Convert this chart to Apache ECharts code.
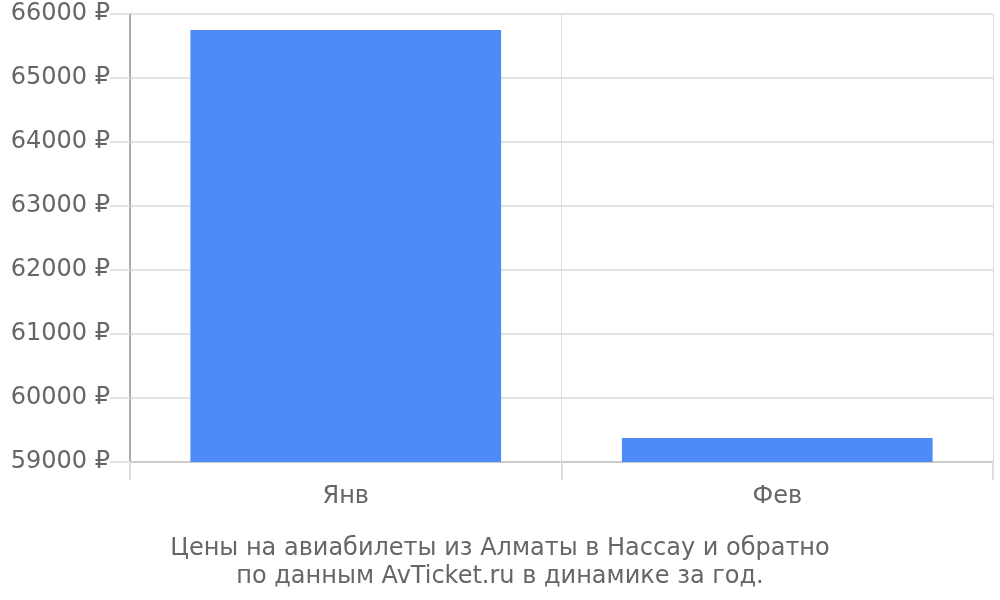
<!DOCTYPE html>
<html>
<head>
<meta charset="utf-8">
<script src="https://cdn.jsdelivr.net/npm/echarts@6/dist/echarts.min.js"></script>
<style>
html, body { margin: 0; padding: 0; background: #fff; }
#chart { width: 1000px; height: 600px; }
</style>
</head>
<body>
<div id="chart"></div>
<script>
var months = ["Янв", "Фев"];
var prices = [65750, 59375];
var title_lines = ["Цены на авиабилеты из Алматы в Нассау и обратно", "по данным AvTicket.ru в динамике за год."];

var chart = echarts.init(document.getElementById("chart"));
var font = "DejaVu Sans";

var option = {
    animation: false,
    title: {
        text: title_lines.join("\n"),
        left: "center",
        bottom: 4,
        textStyle: { fontFamily: font, fontSize: 24, fontWeight: "normal", color: "#666", lineHeight: 28 }
    },
    grid: { left: 130, right: 7, top: 14, bottom: 138 },
    xAxis: {
        type: "category",
        data: months,
        boundaryGap: true,
        axisLine: { lineStyle: { color: "#ccc", width: 2 } },
        axisTick: { show: true, length: 18, lineStyle: { color: "#ddd", width: 2 } },
        splitLine: { show: true, lineStyle: { color: "#ddd", width: 1 } },
        axisLabel: { fontFamily: font, fontSize: 24, color: "#666", margin: 23 }
    },
    yAxis: {
        type: "value",
        min: 59000,
        max: 66000,
        interval: 1000,
        axisLine: { show: true, lineStyle: { color: "#aaa", width: 2 } },
        axisTick: { show: true, length: 20, lineStyle: { color: "#e3e3e3", width: 2 } },
        splitLine: { show: true, lineStyle: { color: "#e3e3e3", width: 2 } },
        axisLabel: {
            fontFamily: font, fontSize: 24, color: "#666", margin: 20,
            formatter: function (v) { return v + " ₽"; }
        }
    },
    series: [{
        type: "bar",
        data: prices,
        barWidth: "72%",
        itemStyle: { color: "#4d8afa" }
    }]
};

chart.setOption(option);
</script>
</body>
</html>
